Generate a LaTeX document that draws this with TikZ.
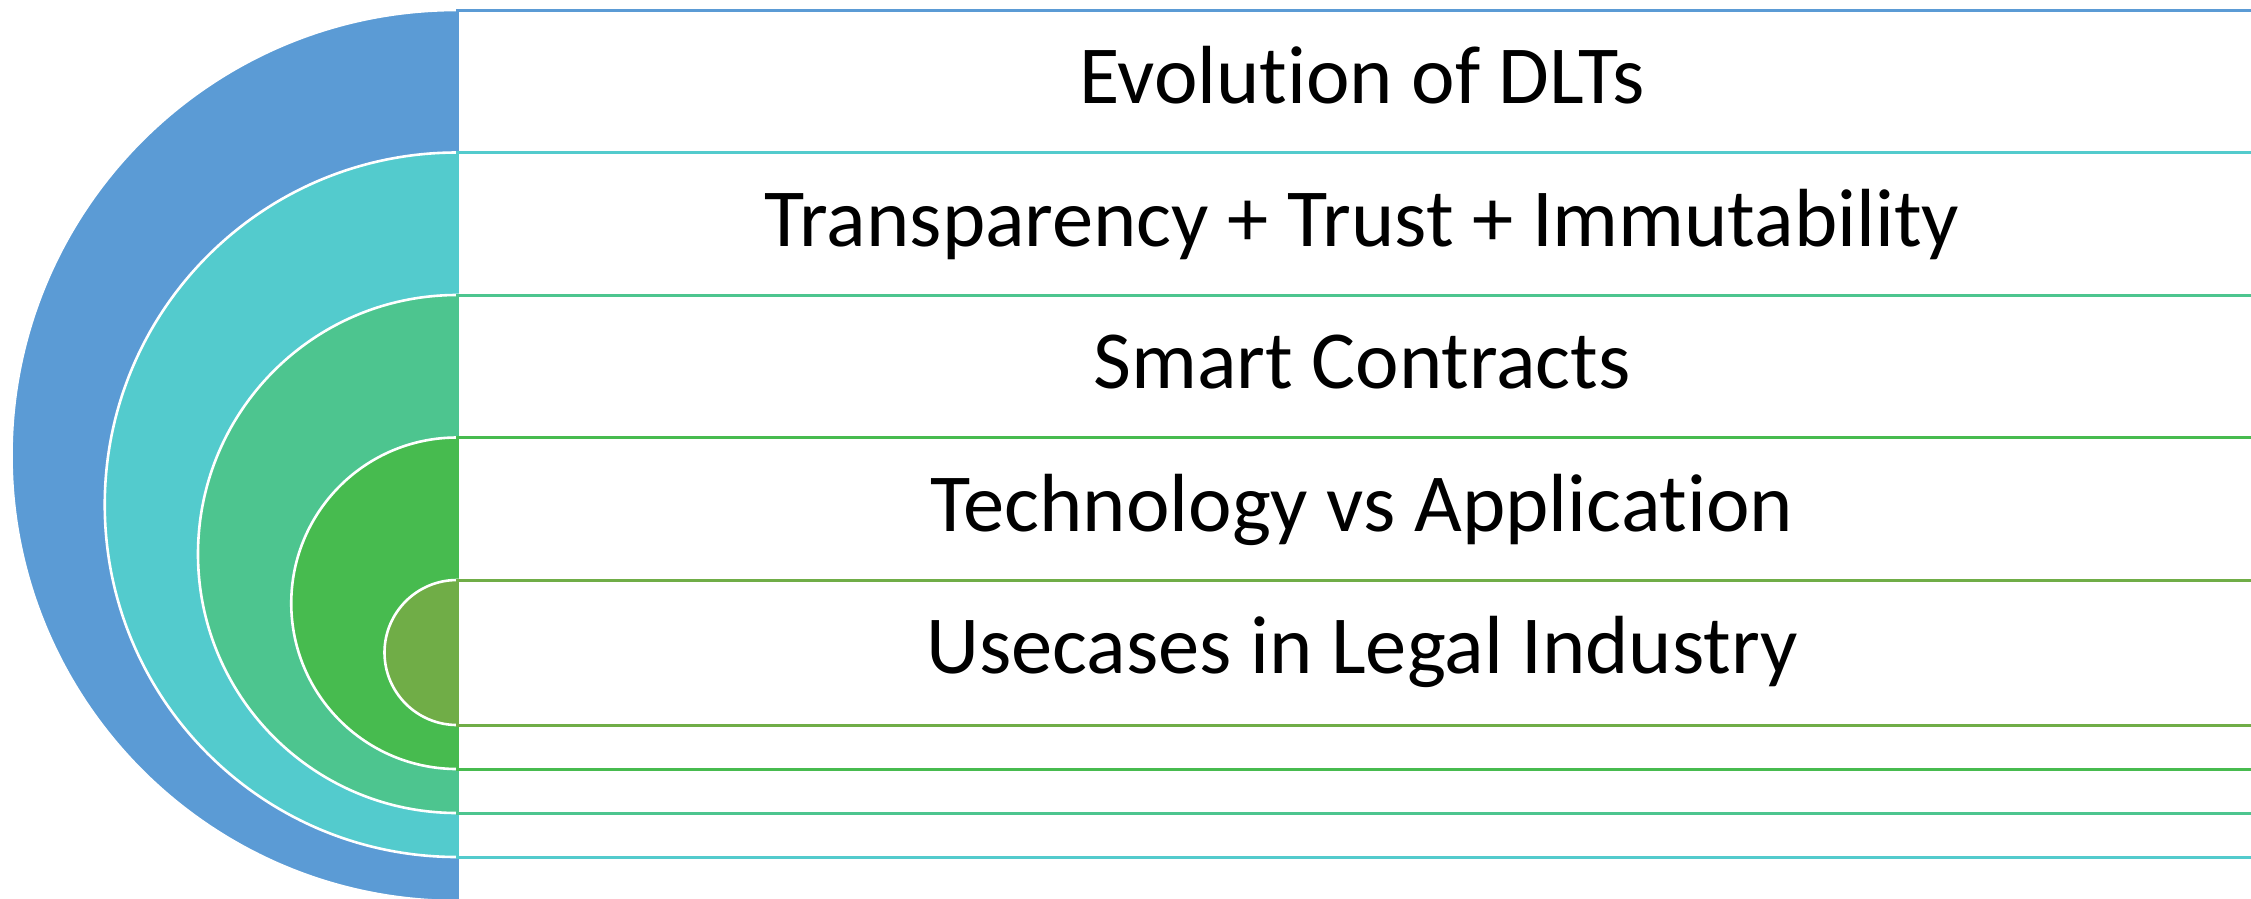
\documentclass[tikz,border=0pt]{standalone}
\usepackage{fontspec}
\setmainfont{Carlito}[Ligatures=NoCommon]
\definecolor{cA}{HTML}{5B9BD5}
\definecolor{cB}{HTML}{53CBCD}
\definecolor{cC}{HTML}{4DC58F}
\definecolor{cD}{HTML}{47BB4F}
\definecolor{cE}{HTML}{70AD47}
\tikzset{
  disc/.style={fill=#1, draw=white, line width=2.6pt},
  band/.style={fill=white, draw=#1, line width=3pt},
  label/.style={anchor=base, inner sep=0pt, font=\fontsize{82.5}{99}\selectfont, text=black}
}
\begin{document}
\begin{tikzpicture}[x=1pt,y=-1pt]
\useasboundingbox (0,0) rectangle (2251,898);
\clip (0,0) rectangle (2251,898);
% level 1
\path[disc=cA] (457,455.5) circle[radius=445.5pt];
\path[band=cA] (457,10) rectangle (2275,901);
% level 2
\path[disc=cB] (457,504.75) circle[radius=352.25pt];
\path[band=cB] (457,152.5) rectangle (2275,857);
% level 3
\path[disc=cC] (457,554) circle[radius=259pt];
\path[band=cC] (457,295) rectangle (2275,813);
% level 4
\path[disc=cD] (457,603.25) circle[radius=165.75pt];
\path[band=cD] (457,437.5) rectangle (2275,769);
% level 5
\path[disc=cE] (457,652.5) circle[radius=72.5pt];
\path[band=cE] (457,580) rectangle (2275,725);
% labels
\node[label] (t1) at (1362,103.5) {Evolution of DLTs};
\node[label] (t2) at (1362,246) {Transparency + Trust + Immutability};
\node[label] (t3) at (1362,388.5) {Smart Contracts};
\node[label] (t4) at (1362,531) {Technology vs Application};
\node[label] (t5) at (1362,673.5) {Usecases in Legal Industry};
\end{tikzpicture}
\end{document}
